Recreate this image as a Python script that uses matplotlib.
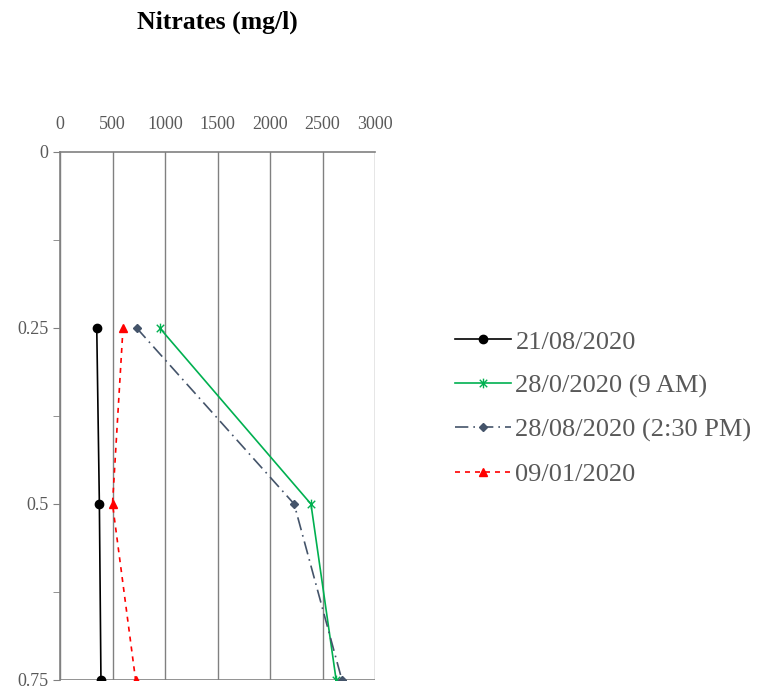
import matplotlib.pyplot as plt
from matplotlib.path import Path
from matplotlib.ticker import MultipleLocator

# depth (m) and nitrate values (mg/l)
depth = [0.25, 0.5, 0.75]
nitr_21_08 = [350, 375, 390]
nitr_28_08_am = [950, 2390, 2630]
nitr_28_08_pm = [730, 2230, 2685]
nitr_09_01 = [600, 500, 720]

x_ticks = [0, 500, 1000, 1500, 2000, 2500, 3000]
y_ticks = [0, 0.25, 0.5, 0.75]
y_labels = ['0', '0.25', '0.5', '0.75']

plt.rcParams['font.family'] = ['Liberation Serif', 'DejaVu Serif']

# excel-like star marker: x with a vertical stroke
star = Path([(-1, -1), (1, 1), (-1, 1), (1, -1), (0, -1.3), (0, 1.3)],
            [Path.MOVETO, Path.LINETO, Path.MOVETO, Path.LINETO,
             Path.MOVETO, Path.LINETO])

fig = plt.figure(figsize=(7.57, 6.93), dpi=100)
ax = fig.add_axes([60 / 757, 1 - 680 / 693, 315 / 757, 528 / 693])

ax.plot(nitr_21_08, depth, color='black', marker='o', markersize=6,
        linewidth=1.2, label='21/08/2020')
ax.plot(nitr_28_08_am, depth, color='#00B050', marker=star, markersize=7,
        markerfacecolor='none', linewidth=1.2, label='28/0/2020 (9 AM)')
ax.plot(nitr_28_08_pm, depth, color='#44546A', marker='D', markersize=4,
        linewidth=1.2, linestyle=(0, (8, 3, 1, 3)), label='28/08/2020 (2:30 PM)')
ax.plot(nitr_09_01, depth, color='#FF0000', marker='^', markersize=6,
        linewidth=1.2, linestyle=(0, (3, 3)), label='09/01/2020')

ax.set_xlim(0, 3000)
ax.set_ylim(0.75, 0)
ax.xaxis.tick_top()
ax.set_xticks(x_ticks)
ax.set_yticks(y_ticks)
ax.set_yticklabels(y_labels)
ax.yaxis.set_minor_locator(MultipleLocator(0.125))
ax.tick_params(axis='x', length=0, pad=14, labelsize=13, labelcolor='#595959')
ax.tick_params(axis='y', which='major', length=5, color='#808080',
               labelsize=13, labelcolor='#595959')
ax.tick_params(axis='y', which='minor', length=5, color='#808080')
ax.grid(axis='x', color='#808080', linewidth=1)
for side in ['right', 'bottom']:
    ax.spines[side].set_visible(False)
for side in ['top', 'left']:
    ax.spines[side].set_color('#808080')
    ax.spines[side].set_linewidth(1.2)
ax.axhline(0.75, color='#808080', linewidth=1.2, zorder=0.5)

fig.text(217 / 757, 1 - 22 / 693, 'Nitrates (mg/l)', ha='center', va='center',
         fontsize=18.5, fontweight='bold')

fig.legend(loc='center left', bbox_to_anchor=(431 / 757, 1 - 408 / 693),
           frameon=False, fontsize=19, labelcolor='#595959',
           handlelength=2.15, handletextpad=0.15, labelspacing=0.77)

fig.savefig('out.png', dpi=100)
